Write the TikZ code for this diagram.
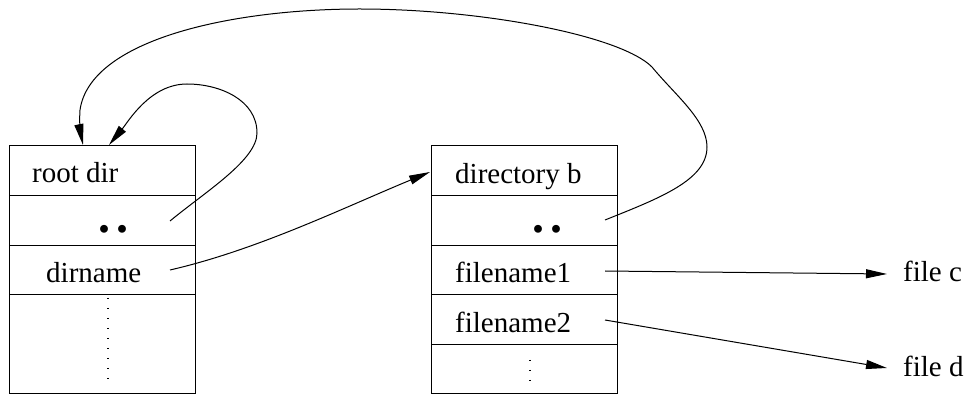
\documentclass[tikz,border=0pt]{standalone}
\usepackage{fontspec}
\setmainfont{Liberation Serif}
\usetikzlibrary{arrows.meta}
\tikzset{
  boxline/.style={line width=1pt},
  conn/.style={line width=1pt,-{Triangle[length=21pt,width=9pt]}},
  plain/.style={line width=1pt},
  lbl/.style={font=\fontsize{29}{29}\selectfont,inner sep=0pt,anchor=base west},
  dotmark/.style={font=\fontsize{48}{48}\selectfont\bfseries,inner sep=0pt,anchor=base},
  vdots/.style={line width=1.2pt,dash pattern=on 1.2pt off 8.8pt}
}
\begin{document}
\begin{tikzpicture}[x=1pt,y=-1pt]
\useasboundingbox (0,0) rectangle (967,395);
% left box
\draw[boxline] (9,146) rectangle (195,394);
\draw[boxline] (9,196) -- (195,196) (9,246) -- (195,246) (9,295) -- (195,295);
% right box
\draw[boxline] (431,146) rectangle (617,394);
\draw[boxline] (431,196) -- (617,196) (431,246) -- (617,246) (431,295) -- (617,295) (431,345) -- (617,345);
% texts
\node[lbl] (root) at (32,183) {root dir};
\node[dotmark] (ddl) at (113,233) {.\kern6pt.};
\node[lbl] (dirname) at (46,283) {dirname};
\node[lbl] (dirb) at (455,184) {directory b};
\node[dotmark] (ddr) at (547,233) {.\kern6pt.};
\node[lbl] (fn1) at (455,283) {filename1};
\node[lbl] (fn2) at (455,333) {filename2};
\node[lbl] (filec) at (903,282) {file c};
\node[lbl] (filed) at (903,377) {file d};
% dotted continuation
\draw[vdots] (108,298) -- (108,382);
\draw[vdots] (530,360) -- (530,384);
% coordinates
\coordinate (rootA) at (83,145);
\coordinate (rootB) at (109,145);
\coordinate (ddlS) at (170,221);
\coordinate (dirS) at (170,270);
\coordinate (dirbIn) at (430,172);
\coordinate (ddrS) at (605,220);
\coordinate (fn1S) at (605,271);
\coordinate (fn2S) at (605,320);
\coordinate (fcIn) at (887,274);
\coordinate (fdIn) at (887,368);
% self loop
\draw[conn] (ddlS) .. controls (205,192) and (257,160) .. (257,133)
  .. controls (257,100) and (220,84) .. (187,84)
  .. controls (150,84) and (128,122) .. (rootB);
% big loop
\draw[conn] (ddrS) .. controls (660,198) and (707,180) .. (707,147)
  .. controls (707,120) and (675,95) .. (652,67)
  .. controls (620,35) and (480,9) .. (360,9)
  .. controls (230,9) and (90,40) .. (80,110)
  .. controls (79,125) and (81,135) .. (rootA);
% dirname -> directory b
\draw[conn] (dirS) .. controls (257,250) and (343,208) .. (dirbIn);
% files
\draw[conn] (fn1S) -- (fcIn);
\draw[conn] (fn2S) -- (fdIn);
\end{tikzpicture}
\end{document}
